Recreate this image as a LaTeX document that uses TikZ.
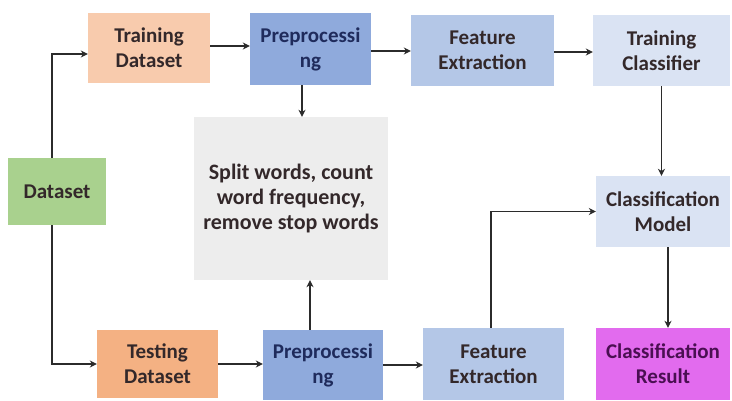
\documentclass[tikz,border=0pt]{standalone}
\usepackage{fontspec}
\setmainfont{Carlito}
\usetikzlibrary{arrows.meta}
\definecolor{peach}{HTML}{F8CBAD}
\definecolor{orangeb}{HTML}{F4B183}
\definecolor{bluemid}{HTML}{8FAADC}
\definecolor{bluelt}{HTML}{B4C7E7}
\definecolor{bluexl}{HTML}{DAE3F3}
\definecolor{greenb}{HTML}{A9D18E}
\definecolor{grayb}{HTML}{EDEDED}
\definecolor{magb}{HTML}{E26BEE}
\definecolor{txt}{HTML}{33282A}
\definecolor{navy}{HTML}{1F2B5C}
\definecolor{purp}{HTML}{4A0F52}
\definecolor{line}{HTML}{2B2B2B}
\tikzset{
  box/.style={rectangle, draw=none, align=center, inner sep=0pt,
    font=\fontsize{21}{25}\selectfont\bfseries, text=txt},
  link/.style={draw=line, line width=1.8pt, -{Stealth[length=7pt,width=7pt]}}
}
\begin{document}
\begin{tikzpicture}[x=1pt,y=-1pt]
\useasboundingbox (0,0) rectangle (732,401);
\fill[white] (0,0) rectangle (732,401);
% top row: training path
\node[box, fill=peach, minimum width=122pt, minimum height=70pt] (td) at (149,48) {Training\\Dataset};
\node[box, fill=bluemid, text=navy, minimum width=121pt, minimum height=72pt] (pp1) at (310.5,49) {Preprocessi\\ng};
\node[box, fill=bluelt, minimum width=143pt, minimum height=71pt] (fe1) at (482.5,50.5) {Feature\\Extraction};
\node[box, fill=bluexl, minimum width=137pt, minimum height=71pt] (tc) at (661.5,50.5) {Training\\Classifier};
% middle
\node[box, fill=greenb, minimum width=98pt, minimum height=67pt] (ds) at (57,191.5) {Dataset};
\node[box, fill=grayb, minimum width=194pt, minimum height=163pt,
  font=\fontsize{22}{25}\selectfont\bfseries] (gb) at (291,198.5) {Split words, count\\word frequency,\\remove stop words};
\node[box, fill=bluexl, minimum width=134pt, minimum height=71pt] (cm) at (663,211.5) {Classification\\Model};
% bottom row: testing path
\node[box, fill=orangeb, minimum width=121pt, minimum height=68pt] (te) at (157.5,364) {Testing\\Dataset};
\node[box, fill=bluemid, text=navy, minimum width=120pt, minimum height=70pt] (pp2) at (323,365) {Preprocessi\\ng};
\node[box, fill=bluelt, minimum width=141pt, minimum height=72pt] (fe2) at (493.5,364) {Feature\\Extraction};
\node[box, fill=magb, text=purp, minimum width=134pt, minimum height=72pt] (cr) at (663,364) {Classification\\Result};
% connectors
\draw[link] ([xshift=-5pt]ds.north) |- ([yshift=-6pt]td.west);
\draw[link] ([xshift=-5pt]ds.south) |- (te.west);
\draw[link] ([yshift=2pt]td.east) -- ([yshift=2pt]td.east -| pp1.west);
\draw[link] ([yshift=-2pt]pp1.east) -- ([yshift=-2pt]pp1.east -| fe1.west);
\draw[link] ([yshift=-1.5pt]fe1.east) -- ([yshift=-1.5pt]fe1.east -| tc.west);
\draw[link] ([xshift=-8.5pt]pp1.south) -- ([xshift=-8.5pt]pp1.south |- gb.north);
\draw[link] ([xshift=-13pt]pp2.north) -- ([xshift=-13pt]pp2.north |- gb.south);
\draw[link] (te.east) -- (te.east -| pp2.west);
\draw[link] (pp2.east) -- (pp2.east -| fe2.west);
\draw[link] ([xshift=-2.5pt]fe2.north) |- (cm.west);
\draw[link] (tc.south) -- (tc.south |- cm.north);
\draw[link] ([xshift=5pt]cm.south) -- ([xshift=5pt]cm.south |- cr.north);
\end{tikzpicture}
\end{document}
